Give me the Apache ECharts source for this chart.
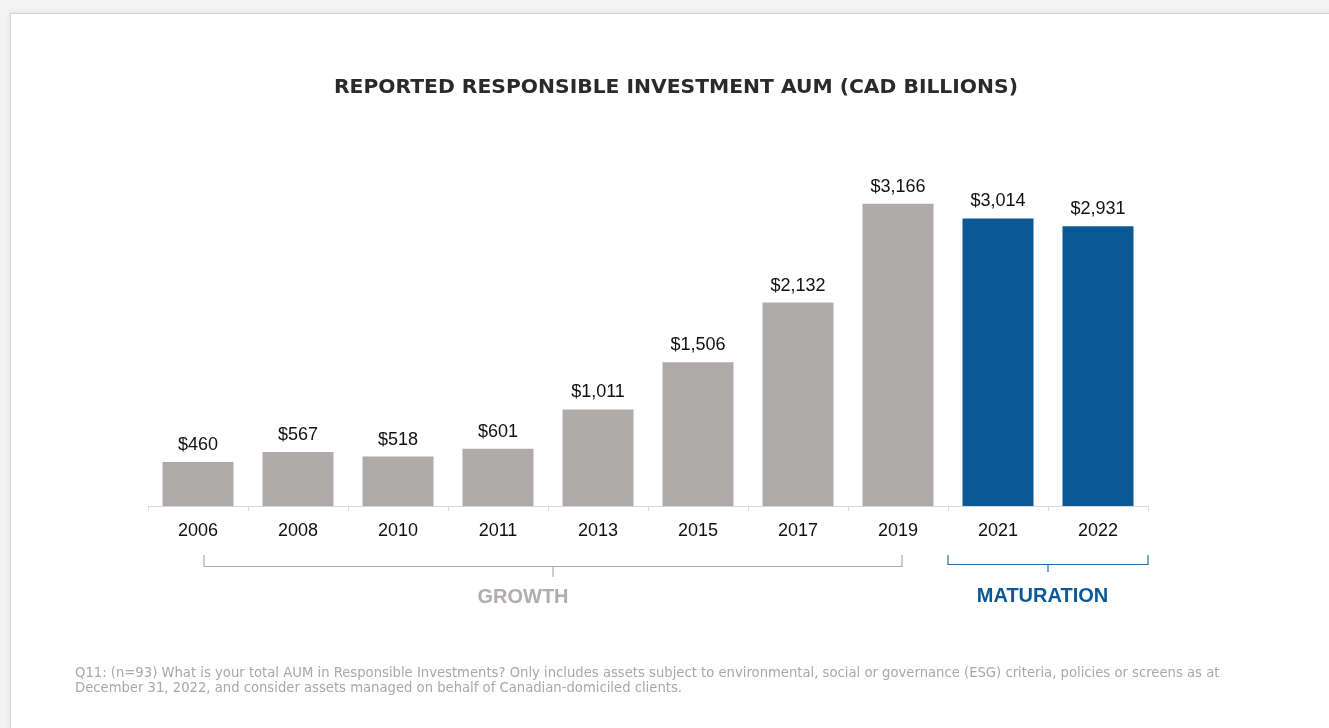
<!DOCTYPE html>
<html>
<head>
<meta charset="utf-8">
<script src="https://cdn.jsdelivr.net/npm/echarts@6/dist/echarts.min.js"></script>
<style>
  html, body { margin: 0; padding: 0; width: 1329px; height: 728px; overflow: hidden; background: #f3f3f3; }
  #card { position: absolute; left: 10px; top: 13px; width: 1340px; height: 740px; background: #fff;
          border: 1px solid #d2d2d2; box-shadow: 0 0 6px rgba(0,0,0,0.08); }
  #chart { position: absolute; left: 0; top: 0; width: 1329px; height: 728px; }
</style>
</head>
<body>
<div id="card"></div>
<div id="chart"></div>
<script>
// Reported responsible investment AUM, CAD billions
const years = ['2006', '2008', '2010', '2011', '2013', '2015', '2017', '2019', '2021', '2022'];
const aum = [460, 567, 518, 601, 1011, 1506, 2132, 3166, 3014, 2931];
const phases = ['growth', 'growth', 'growth', 'growth', 'growth', 'growth', 'growth', 'growth', 'maturation', 'maturation'];
const phaseNames = { growth: 'GROWTH', maturation: 'MATURATION' };
const titleText = 'REPORTED RESPONSIBLE INVESTMENT AUM (CAD BILLIONS)';
const noteLines = [
  'Q11: (n=93) What is your total AUM in Responsible Investments? Only includes assets subject to environmental, social or governance (ESG) criteria, policies or screens as at',
  'December 31, 2022, and consider assets managed on behalf of Canadian-domiciled clients.'
];

const GREY = '#afabaa';
const BLUE = '#0a5896';
const phaseColor = { growth: GREY, maturation: BLUE };

const chart = echarts.init(document.getElementById('chart'), null, { renderer: 'canvas' });

const fmt = v => '$' + v.toLocaleString('en-US');

chart.setOption({
  backgroundColor: 'transparent',
  animation: false,
  title: {
    text: titleText,
    left: 329,
    top: 73,
    textStyle: { fontFamily: 'DejaVu Sans', fontWeight: 'bold', fontSize: 20.3, color: '#2a2a2a' }
  },
  grid: { left: 148, right: 181, top: 172, bottom: 222, containLabel: false },
  xAxis: {
    type: 'category',
    data: years,
    axisLine: { lineStyle: { color: '#d9d9d9', width: 1 } },
    axisTick: { show: true, length: 5, lineStyle: { color: '#d9d9d9' } },
    axisLabel: { margin: 16, fontFamily: 'Liberation Sans', fontSize: 18, color: '#111' }
  },
  yAxis: {
    type: 'value', min: 0, max: 3500,
    show: false,
    splitLine: { show: false }
  },
  series: [{
    type: 'bar',
    barCategoryGap: '29%',
    data: aum.map((v, i) => ({ value: v, itemStyle: { color: phaseColor[phases[i]] } })),
    label: {
      show: true, position: 'top', distance: 8,
      fontFamily: 'Liberation Sans', fontSize: 18, color: '#111',
      formatter: p => fmt(p.value)
    }
  }]
});

// Phase brackets under the axis, placed from the category positions
function px(i) { return chart.convertToPixel({ xAxisIndex: 0 }, years[i]); }
const firstOf = ph => phases.indexOf(ph);
const lastOf = ph => phases.lastIndexOf(ph);

function bracket(x0, x1, yTop, yLine, yTip, color, xMid) {
  const mid = xMid !== undefined ? xMid : (x0 + x1) / 2;
  const style = { stroke: color, lineWidth: 1.2, fill: null };
  return [
    { type: 'polyline', silent: true, shape: { points: [[x0, yTop], [x0, yLine], [x1, yLine], [x1, yTop]] }, style },
    { type: 'line', silent: true, shape: { x1: mid, y1: yLine, x2: mid, y2: yTip }, style }
  ];
}

const band = px(1) - px(0);
const gx0 = px(firstOf('growth')) + 6;
const gx1 = px(lastOf('growth')) + 4;
const mx0 = px(firstOf('maturation')) - band / 2;
const mx1 = px(lastOf('maturation')) + band / 2;

chart.setOption({
  graphic: [
    ...bracket(gx0, gx1, 555, 566.5, 577, '#acacac'),
    ...bracket(mx0, mx1, 555, 564.5, 572, '#2f6ba2'),
    {
      type: 'text', silent: true, x: (gx0 + gx1) / 2 - 30, y: 597,
      style: { text: phaseNames.growth, fontFamily: 'Liberation Sans', fontWeight: 'bold', fontSize: 20,
               fill: '#b0adac', align: 'center', verticalAlign: 'middle' }
    },
    {
      type: 'text', silent: true, x: (mx0 + mx1) / 2 - 5.5, y: 596.5,
      style: { text: phaseNames.maturation, fontFamily: 'Liberation Sans', fontWeight: 'bold', fontSize: 20,
               fill: BLUE, align: 'center', verticalAlign: 'middle' }
    },
    {
      type: 'text', silent: true, x: 75, y: 666,
      style: { text: noteLines.join('\n'), fontFamily: 'DejaVu Sans', fontSize: 13.2, lineHeight: 15,
               fill: '#a8a8a8', align: 'left', verticalAlign: 'top' }
    }
  ]
});
</script>
</body>
</html>
